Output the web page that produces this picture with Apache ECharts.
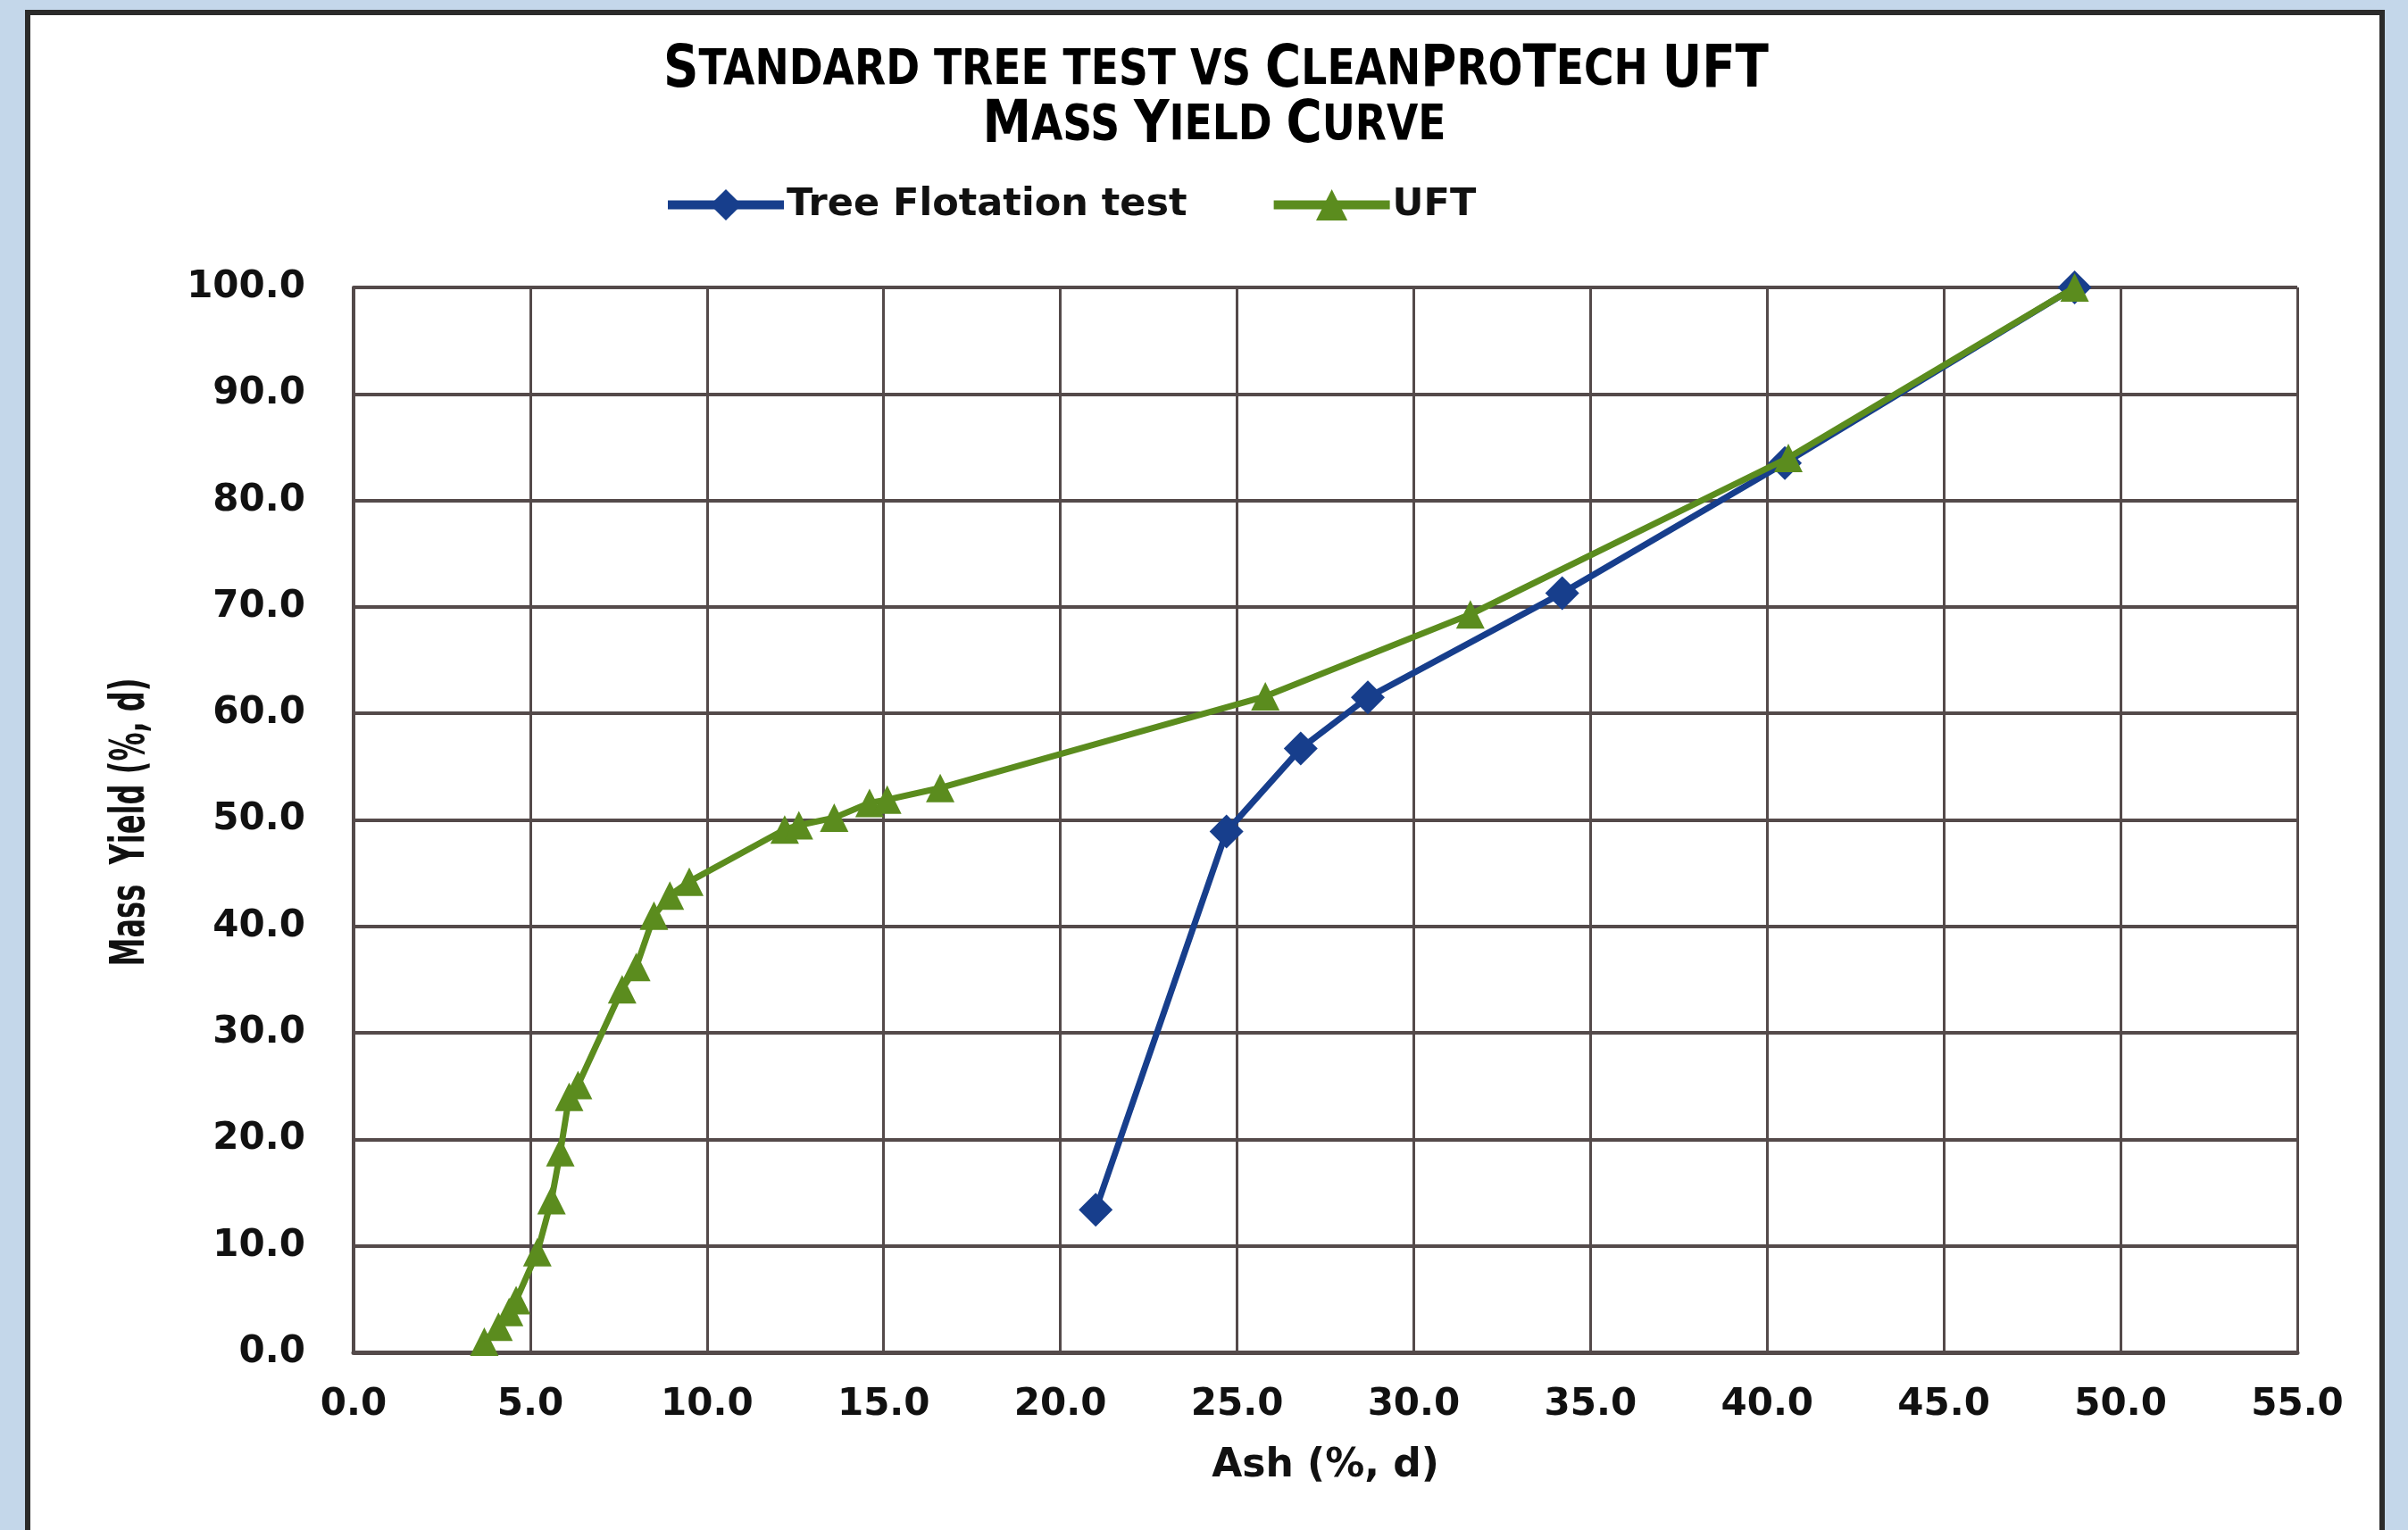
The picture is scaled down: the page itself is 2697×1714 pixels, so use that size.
<!DOCTYPE html>
<html><head><meta charset="utf-8">
<script src="https://cdn.jsdelivr.net/npm/echarts@6/dist/echarts.min.js"></script>
<style>html,body{margin:0;padding:0;background:#c4d7ea;}#c{width:2697px;height:1714px;}</style>
</head><body><div id="c"></div>
<script>
const treeAsh   = [21.0, 24.7, 26.8, 28.7, 34.2, 40.5, 48.7];
const treeYield = [13.4, 48.9, 56.7, 61.5, 71.3, 83.5, 100.0];
const uftAsh   = [3.7, 4.1, 4.4, 4.6, 5.2, 5.6, 5.85, 6.1, 6.35, 7.6, 8.0, 8.5, 8.95, 9.5, 12.2, 12.6, 13.6, 14.6, 15.1, 16.6, 25.8, 31.6, 40.6, 48.7];
const uftYield = [1.0, 2.4, 3.8, 4.9, 9.4, 14.3, 18.8, 24.0, 25.1, 34.1, 36.2, 41.0, 42.9, 44.2, 49.1, 49.5, 50.2, 51.6, 51.9, 53.0, 61.6, 69.3, 84.0, 100.0];
const xTicks = {min: 0, max: 55, step: 5};
const yTicks = {min: 0, max: 100, step: 10};
const seriesNames = ['Tree Flotation test', 'UFT'];
const titleLine1 = [['b','S'],['s','TANDARD TREE TEST VS '],['b','C'],['s','LEAN'],['b','P'],['s','RO'],['b','T'],['s','ECH '],['b','UFT']];
const titleLine2 = [['b','M'],['s','ASS '],['b','Y'],['s','IELD '],['b','C'],['s','URVE']];
const yName = 'Mass  Yield (%, d)';
const xName = 'Ash (%, d)';

const pair = (a, b) => a.map((v, i) => [v, b[i]]);
const ctx = document.createElement('canvas').getContext('2d');
function measure(font, text) { ctx.font = font; return ctx.measureText(text).width; }
const fam = "'DejaVu Sans', sans-serif";
const bigSize = 66, smSize = 55;
const fontOf = k => 'bold ' + (k === 'b' ? bigSize : smSize) + 'px ' + fam;
function titleText(parts) { return parts.map(p => '{' + p[0] + '|' + p[1] + '}').join(''); }
function titleWidth(parts) { return parts.reduce((s, p) => s + measure(fontOf(p[0]), p[1]), 0); }
const richE = {b: {fontSize: bigSize, fontWeight: 'bold', fontFamily: fam, color: '#111'}, s: {fontSize: smSize, fontWeight: 'bold', fontFamily: fam, color: '#111'}};
const t1scale = 1238 / titleWidth(titleLine1);
const t2scale = 519 / titleWidth(titleLine2);
const yNameFont = 'bold 54px ' + fam;
const yNameScale = 323 / measure(yNameFont, yName);

const chart = echarts.init(document.getElementById('c'), null, {renderer: 'canvas'});
chart.setOption({
  backgroundColor: '#c4d7ea',
  graphic: [
    {type: 'rect', shape: {x: 31, y: 14, width: 2637, height: 1720}, style: {fill: '#fff', stroke: '#2b2b2b', lineWidth: 6}, z: -10},
    {type: 'text', x: 1362, y: 80, scaleX: t1scale, z: 10,
     style: {text: titleText(titleLine1), rich: richE, align: 'center', verticalAlign: 'middle'}},
    {type: 'text', x: 1360, y: 142, scaleX: t2scale, z: 10,
     style: {text: titleText(titleLine2), rich: richE, align: 'center', verticalAlign: 'middle'}},
    {type: 'text', x: 147, y: 921, rotation: Math.PI / 2, scaleX: yNameScale, z: 10,
     style: {text: yName, fontSize: 54, fontWeight: 'bold', fontFamily: fam, fill: '#111', align: 'center', verticalAlign: 'middle'}}
  ],
  legend: {top: 203, left: 738, itemWidth: 130, itemHeight: 44, itemGap: 92,
    lineStyle: {width: 10},
    textStyle: {fontFamily: fam, fontWeight: 'bold', fontSize: 43, color: '#111', padding: [0, 0, 0, -2]},
    data: seriesNames},
  grid: {left: 396, right: 2697 - 2573, top: 322, bottom: 1714 - 1515, containLabel: false},
  xAxis: {type: 'value', min: xTicks.min, max: xTicks.max, interval: xTicks.step,
    name: xName, nameLocation: 'middle', nameGap: 106,
    nameTextStyle: {fontFamily: fam, fontWeight: 'bold', fontSize: 44, color: '#111'},
    axisLine: {show: true, lineStyle: {color: '#544a4a', width: 5}},
    axisTick: {show: false},
    axisLabel: {formatter: v => v.toFixed(1), fontFamily: fam, fontWeight: 'bold', fontSize: 42, color: '#111', margin: 38},
    splitLine: {show: true, lineStyle: {color: '#544a4a', width: 3}}},
  yAxis: {type: 'value', min: yTicks.min, max: yTicks.max, interval: yTicks.step,
    axisLine: {show: true, lineStyle: {color: '#544a4a', width: 4}},
    axisTick: {show: false},
    axisLabel: {formatter: v => v.toFixed(1), fontFamily: fam, fontWeight: 'bold', fontSize: 42, color: '#111', margin: 54},
    splitLine: {show: true, lineStyle: {color: '#544a4a', width: 4}}},
  series: [
    {name: seriesNames[0], type: 'line', data: pair(treeAsh, treeYield), symbol: 'diamond', symbolSize: 38,
     itemStyle: {color: '#173e8c'}, lineStyle: {color: '#173e8c', width: 7}, z: 3},
    {name: seriesNames[1], type: 'line', data: pair(uftAsh, uftYield), symbol: 'triangle', symbolSize: 32,
     itemStyle: {color: '#5b8c1e'}, lineStyle: {color: '#5b8c1e', width: 7}, z: 4}
  ]
});
</script></body></html>
